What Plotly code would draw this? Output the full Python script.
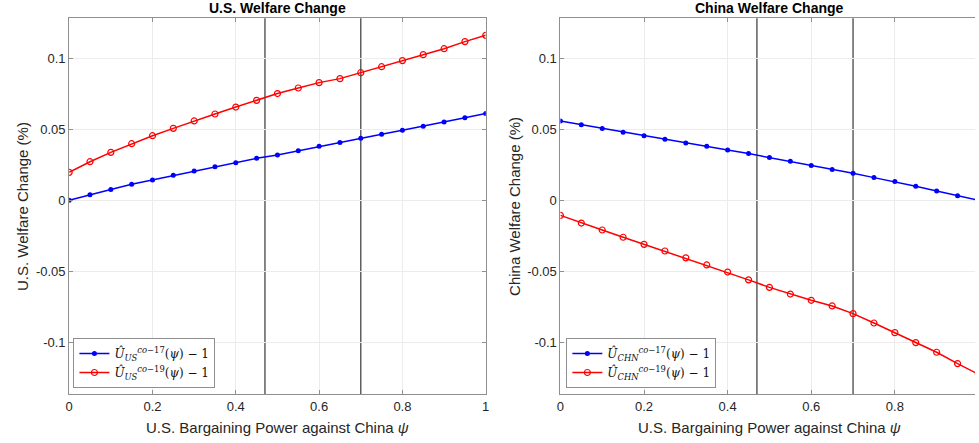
import plotly.graph_objects as go

psi = [round(0.05 * i, 2) for i in range(21)]

us_17 = [0.0, 0.0040, 0.0077, 0.0113, 0.0143, 0.0176, 0.0206, 0.0237, 0.0265, 0.0296, 0.0320,
         0.0350, 0.0380, 0.0408, 0.0437, 0.0465, 0.0493, 0.0521, 0.0552, 0.0582, 0.0612]
us_19 = [0.0197, 0.0272, 0.0338, 0.0399, 0.0455, 0.0507, 0.0559, 0.0608, 0.0657, 0.0704, 0.0752,
         0.0791, 0.0829, 0.0857, 0.0899, 0.0941, 0.0984, 0.1026, 0.1068, 0.1118, 0.1162]
chn_17 = [0.0559, 0.0533, 0.0505, 0.0479, 0.0455, 0.0430, 0.0404, 0.0380, 0.0354, 0.0329, 0.0302,
          0.0275, 0.0246, 0.0218, 0.0190, 0.0160, 0.0132, 0.0099, 0.0066, 0.0033, 0.0000]
chn_19 = [-0.0106, -0.0160, -0.0209, -0.0260, -0.0310, -0.0357, -0.0405, -0.0455, -0.0505, -0.0560, -0.0613,
          -0.0660, -0.0704, -0.0744, -0.0798, -0.0864, -0.0932, -0.1002, -0.1070, -0.1150, -0.1225]

cutoffs = [0.47, 0.70]

x_ticks = [0, 0.2, 0.4, 0.6, 0.8, 1]
x_ticktext = ["0", "0.2", "0.4", "0.6", "0.8", "1"]
y_ticks = [-0.1, -0.05, 0, 0.05, 0.1]
y_ticktext = ["-0.1", "-0.05", "0", "0.05", "0.1"]

titles = ["U.S. Welfare Change", "China Welfare Change"]
y_titles = ["U.S. Welfare Change (%)", "China Welfare Change (%)"]
x_title = "U.S. Bargaining Power against China <i>ψ</i>"

leg_us = ["<i>Û</i><sub><i>US</i></sub><sup><i>co</i>−17</sup>(<i>ψ</i>) − 1",
          "<i>Û</i><sub><i>US</i></sub><sup><i>co</i>−19</sup>(<i>ψ</i>) − 1"]
leg_chn = ["<i>Û</i><sub><i>CHN</i></sub><sup><i>co</i>−17</sup>(<i>ψ</i>) − 1",
           "<i>Û</i><sub><i>CHN</i></sub><sup><i>co</i>−19</sup>(<i>ψ</i>) − 1"]

W, H = 979, 443
BLUE = "#0000ff"
RED = "#ff0000"
AX = "#8f8f8f"
GRID = "#ececec"


def px_x(p):
    return p / W


def px_y(p):
    return 1 - p / H


fig = go.Figure()


def add_pair(xa, ya, s17, s19, names, legend):
    fig.add_trace(go.Scatter(x=psi, y=s17, mode="lines+markers", name=names[0],
                             line=dict(color=BLUE, width=1.5),
                             marker=dict(color=BLUE, size=5, symbol="circle"),
                             xaxis=xa, yaxis=ya, legend=legend))
    fig.add_trace(go.Scatter(x=psi, y=s19, mode="lines+markers", name=names[1],
                             line=dict(color=RED, width=1.5),
                             marker=dict(color=RED, size=6, symbol="circle-open", line=dict(width=1.2)),
                             xaxis=xa, yaxis=ya, legend=legend))


add_pair("x", "y", us_17, us_19, leg_us, "legend")
add_pair("x2", "y2", chn_17, chn_19, leg_chn, "legend2")

ydom = [px_y(394), px_y(18.3)]
xdom1 = [px_x(65.7), px_x(485.7)]
xdom2 = [px_x(561.0), 1.0]
x2_end = (W - 561.0) / 421.5
yrange = [-0.1364, 0.1282]

tickfont = dict(family="Liberation Sans, Arial, sans-serif", size=13, color="#262626")

common_x = dict(tickvals=x_ticks, ticktext=x_ticktext, showgrid=True, gridcolor=GRID, gridwidth=1,
                showline=True, linecolor=AX, linewidth=1, ticks="inside", ticklen=4, tickcolor=AX,
                zeroline=False, tickfont=tickfont, mirror="ticks")
common_y = dict(tickvals=y_ticks, ticktext=y_ticktext, showgrid=True, gridcolor=GRID, gridwidth=1,
                showline=True, linecolor=AX, linewidth=1, ticks="inside", ticklen=4, tickcolor=AX,
                zeroline=False, tickfont=tickfont, range=yrange, domain=ydom)

legfont = dict(family="DejaVu Serif, Liberation Serif, serif", size=12, color="#111")

fig.update_layout(
    width=W, height=H,
    margin=dict(l=0, r=0, t=0, b=0),
    paper_bgcolor="white", plot_bgcolor="white",
    xaxis=dict(domain=xdom1, anchor="y", range=[0, 1], **common_x),
    yaxis=dict(anchor="x", mirror="ticks", **common_y),
    xaxis2=dict(domain=xdom2, anchor="y2", range=[0, x2_end], **common_x),
    yaxis2=dict(anchor="x2", mirror=False, **common_y),
    legend=dict(x=px_x(70), y=px_y(388), xanchor="left", yanchor="bottom",
                bgcolor="white", bordercolor=AX, borderwidth=1, font=legfont,
                tracegroupgap=0, itemwidth=30),
    legend2=dict(x=px_x(567), y=px_y(388), xanchor="left", yanchor="bottom",
                 bgcolor="white", bordercolor=AX, borderwidth=1, font=legfont,
                 tracegroupgap=0, itemwidth=30),
    showlegend=True,
)

for xr, yr in [("x", "y domain"), ("x2", "y2 domain")]:
    for c in cutoffs:
        fig.add_shape(type="line", xref=xr, yref=yr, x0=c, x1=c, y0=0, y1=1,
                      line=dict(color="#5f5f5f", width=1.5), layer="below")

centers = [(xdom1[0] + xdom1[1]) / 2, (px_x(561.0) + px_x(982.5)) / 2]
ycenter = (ydom[0] + ydom[1]) / 2
ytitle_x = [px_x(18), px_x(514)]
for i in range(2):
    fig.add_annotation(text="<b>" + titles[i] + "</b>", x=centers[i], y=px_y(8),
                       xref="paper", yref="paper", showarrow=False,
                       font=dict(family="Liberation Sans, Arial, sans-serif", size=14, color="#000"),
                       xanchor="center", yanchor="middle")
    fig.add_annotation(text=x_title, x=centers[i], y=px_y(427),
                       xref="paper", yref="paper", showarrow=False,
                       font=dict(family="Liberation Sans, Arial, sans-serif", size=15, color="#262626"),
                       xanchor="center", yanchor="middle")
    fig.add_annotation(text=y_titles[i], x=ytitle_x[i], y=ycenter, textangle=-90,
                       xref="paper", yref="paper", showarrow=False,
                       font=dict(family="Liberation Sans, Arial, sans-serif", size=15, color="#262626"),
                       xanchor="center", yanchor="middle")

fig.write_html("out.html", config={"displayModeBar": False},
               post_script="document.body.style.margin='0';")
